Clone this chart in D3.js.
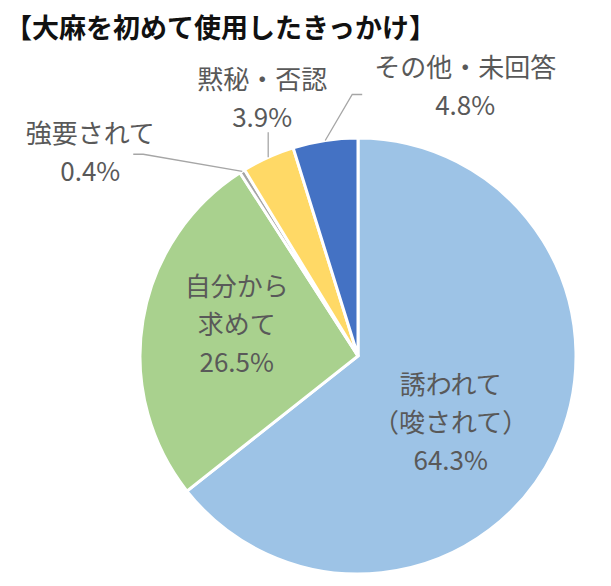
<!DOCTYPE html>
<html>
<head>
<meta charset="utf-8">
<script src="https://cdn.jsdelivr.net/npm/d3@7"></script>
<style>
  body { margin: 0; background: #fff; }
  text { font-family: "Noto Sans CJK JP", "Noto Sans", sans-serif; }
</style>
</head>
<body>
<div class="chart"></div>
<script>
// data
const titleText = '【大麻を初めて使用したきっかけ】';
const categories = [['誘われて', '（唆されて）'], ['自分から', '求めて'], ['強要されて'], ['黙秘・否認'], ['その他・未回答']];
const values = [64.3, 26.5, 0.4, 3.9, 4.8];
const colors = ['#9DC3E6', '#A9D18E', '#A5A5A5', '#FFD966', '#4472C4'];

// where each label goes (Excel had them dragged by hand)
// inside: [radius, dx, dy]; outside: leader elbow offset from arc, then label centre from leader end
const labelLayout = [
    {inside: true, r: 113, dx: -9, dy: 15},
    {inside: true, r: 125, dx: 2, dy: -13},
    {inside: false, elbow: [-99, -17], end: [-10, 0], label: [-43, -4]},
    {inside: false, elbow: [0, -25], end: null, label: [-6, -36]},
    {inside: false, elbow: [27, -46], end: [10, 0], label: [103, -10]}
];

var width = 611, height = 586;
var cx = 358, cy = 356, radius = 218;
var lineH = 38;

let svg = d3.select('.chart')
    .append('svg')
    .attr('width', width)
    .attr('height', height);

svg.append('text')
    .attr('x', 5)
    .attr('y', 38)
    .attr('font-size', 27)
    .attr('font-weight', 700)
    .attr('fill', '#111')
    .text(titleText);

let pie = d3.pie().sort(null).startAngle(0).endAngle(2 * Math.PI);
let arcs = pie(values);
let arc = d3.arc().innerRadius(0).outerRadius(radius);

let g = svg.append('g')
    .attr('transform', 'translate(' + cx + ',' + cy + ')');

g.selectAll('path.slice')
    .data(arcs)
    .enter().append('path')
    .classed('slice', true)
    .attr('d', arc)
    .attr('fill', (d, i) => colors[i])
    .attr('stroke', '#fff')
    .attr('stroke-width', 3)
    .attr('stroke-linejoin', 'miter');

function polar(r, a) {
    return [r * Math.sin(a), -r * Math.cos(a)];
}

arcs.forEach((d, i) => {
    let lay = labelLayout[i];
    let mid = (d.startAngle + d.endAngle) / 2;
    let lines = categories[i].concat([values[i].toFixed(1) + '%']);
    let center;
    if (lay.inside) {
        let p = polar(lay.r, mid);
        center = [p[0] + lay.dx, p[1] + lay.dy];
    } else {
        let p = polar(radius, mid);
        let pts = [p, [p[0] + lay.elbow[0], p[1] + lay.elbow[1]]];
        if (lay.end) {
            let e = pts[1];
            pts.push([e[0] + lay.end[0], e[1] + lay.end[1]]);
        }
        let last = pts[pts.length - 1];
        g.append('polyline')
            .attr('points', pts.map(q => q.join(',')).join(' '))
            .attr('fill', 'none')
            .attr('stroke', '#A6A6A6')
            .attr('stroke-width', 1.3);
        center = [last[0] + lay.label[0], last[1] + lay.label[1]];
    }
    let top = center[1] - (lines.length - 1) * lineH / 2;
    lines.forEach((t, j) => {
        g.append('text')
            .attr('x', center[0])
            .attr('y', top + j * lineH)
            .attr('text-anchor', 'middle')
            .attr('dominant-baseline', 'central')
            .attr('font-size', 26)
            .attr('fill', '#595959')
            .text(t);
    });
});
</script>
</body>
</html>
